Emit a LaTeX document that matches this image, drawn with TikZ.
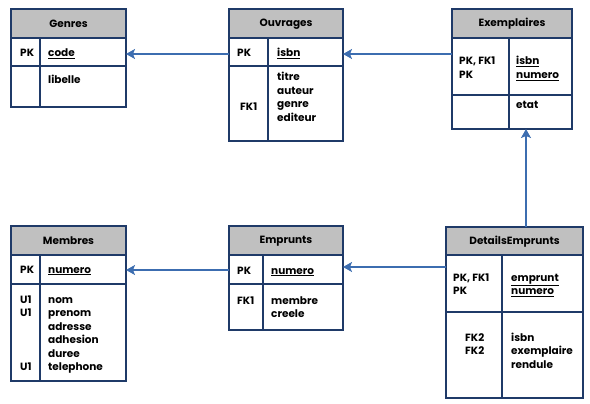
\documentclass[tikz,border=0pt]{standalone}
\usepackage{fontspec}
\setmainfont{Poppins}
\usetikzlibrary{arrows.meta}
\definecolor{boxc}{HTML}{1F3A68}
\definecolor{hdrc}{HTML}{C0C0C0}
\definecolor{arrc}{HTML}{3C6DB0}
\tikzset{
  tbl/.style={draw=boxc, line width=1.2pt, inner sep=0pt, outer sep=0pt, anchor=north west},
  hdrfill/.style={fill=hdrc, draw=boxc, line width=1.2pt},
  sep/.style={draw=boxc, line width=1.2pt},
  title/.style={font=\bfseries\fontsize{10.5}{13.5}\selectfont, inner sep=0pt},
  txt/.style={font=\bfseries\fontsize{10.5}{13.5}\selectfont, inner sep=0pt, anchor=base west},
  arr/.style={draw=arrc, line width=1.4pt, -{Stealth[length=9pt,width=10pt,inset=2pt]}}
}
% \dbtable{name}{x1}{y1}{x2}{y2}{yheader}{yrow}{xcol}{title}
\newcommand{\dbtable}[9]{%
  \node[tbl, minimum width=#4pt-#2pt, minimum height=#5pt-#3pt] (#1) at (#2,#3) {};
  \path[hdrfill] (#2,#3) rectangle (#4,#6);
  \draw[sep] (#2,#7) -- (#4,#7);
  \draw[sep] (#8,#6) -- (#8,#5);
  \draw[draw=boxc, line width=1.2pt] (#1.south west) rectangle (#1.north east);
  \node[title] (#1-t) at ({(#2+#4)/2},{(#3+#6)/2+0.5}) {#9};
}
% \lines{prefix}{x}{first baseline}{items}
\newcommand{\lines}[4]{%
  \foreach \t [count=\i] in {#4} {
    \node[txt] (#1\i) at (#2,{#3+13.5*(\i-1)}) {\t};
  }
}
\begin{document}
\begin{tikzpicture}[x=1pt,y=-1pt]
\useasboundingbox (0,0) rectangle (590,404);
% tables
\dbtable{gen}{11}{9}{126}{107}{38}{66}{40}{Genres}
\dbtable{ouv}{229}{9}{343}{141}{38}{66}{268}{Ouvrages}
\dbtable{exe}{452}{9}{572}{129}{38}{95}{509}{Exemplaires}
\dbtable{mem}{11}{226}{126}{381}{255}{284}{40}{Membres}
\dbtable{emp}{229}{226}{343}{330}{255}{284}{263}{Emprunts}
\dbtable{det}{446}{227}{583}{398}{255}{312}{502}{DetailsEmprunts}
% Genres
\node[txt] (genk) at (20,57) {PK};
\node[txt] (genc) at (48,57) {\underline{code}};
\node[txt] (genl) at (48,84) {libelle};
% Ouvrages
\node[txt] (ouvk) at (237,57) {PK};
\node[txt] (ouvc) at (277,57) {\underline{isbn}};
\lines{ouvl}{277}{81}{titre,auteur,genre,editeur}
\node[txt] (ouvf) at (240,111) {FK1};
% Exemplaires
\lines{exek}{459}{65}{{PK, FK1},PK}
\node[txt] (exec1) at (516,65) {\underline{isbn}};
\node[txt] (exec2) at (516,78.5) {\underline{numero}};
\node[txt] (exel) at (516,109) {etat};
% Membres
\node[txt] (memk) at (20,273) {PK};
\node[txt] (memc) at (48,273) {\underline{numero}};
\lines{meml}{48}{303}{nom,prenom,adresse,adhesion,duree,telephone}
\node[txt] (memu1) at (20,303) {U1};
\node[txt] (memu2) at (20,316.5) {U1};
\node[txt] (memu3) at (20,370.5) {U1};
% Emprunts
\node[txt] (empk) at (237,274) {PK};
\node[txt] (empc) at (271,274) {\underline{numero}};
\node[txt] (empf) at (237,304) {FK1};
\lines{empl}{271}{304}{membre,creele}
% DetailsEmprunts
\lines{detk}{453}{281}{{PK, FK1},PK}
\node[txt] (detc1) at (511,281) {\underline{emprunt}};
\node[txt] (detc2) at (511,294.5) {\underline{numero}};
\lines{detf}{465}{341}{FK2,FK2}
\lines{detl}{511}{341}{isbn,exemplaire,rendule}
% connectors
\coordinate (r1) at (0,54);
\coordinate (r2) at (0,270);
\coordinate (r3) at (0,267);
\coordinate (c1) at (526,0);
\draw[arr] (ouv.west |- r1) -- (gen.east |- r1);
\draw[arr] (exe.west |- r1) -- (ouv.east |- r1);
\draw[arr] (emp.west |- r2) -- (mem.east |- r2);
\draw[arr] (det.west |- r3) -- (emp.east |- r3);
\draw[arr] (det.north -| c1) -- (exe.south -| c1);
\end{tikzpicture}
\end{document}
